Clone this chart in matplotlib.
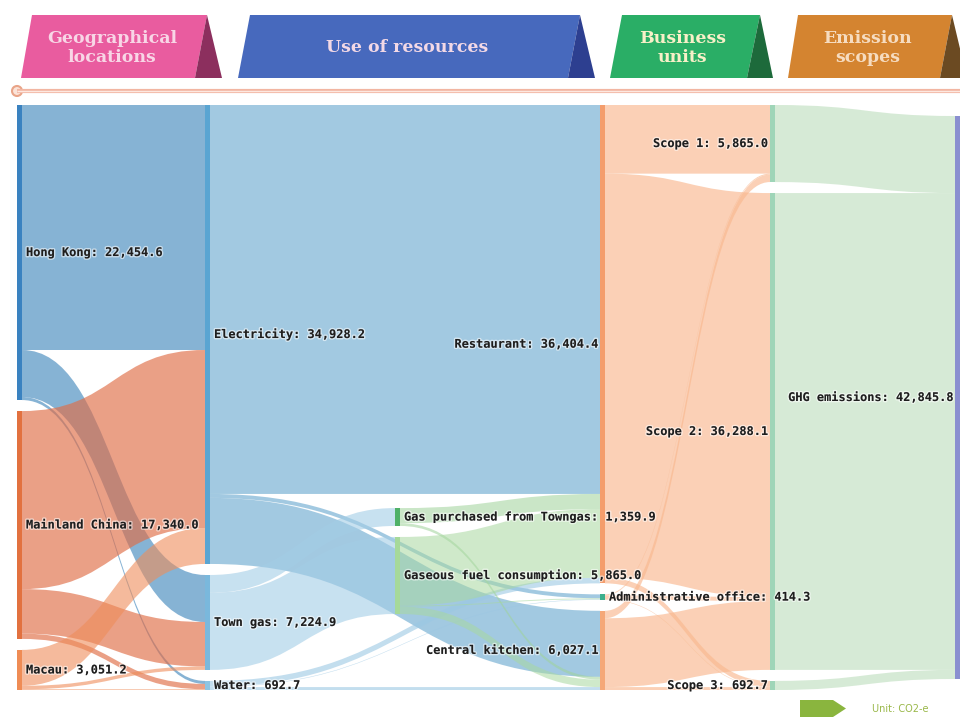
import matplotlib.pyplot as plt
import matplotlib.patheffects as pe
from matplotlib.path import Path
from matplotlib.patches import PathPatch, Polygon, Circle

# node names and the column each one sits in
node_names = [
    "Hong Kong", "Mainland China", "Macau",
    "Electricity", "Town gas", "Water",
    "Gas purchased from Towngas", "Gaseous fuel consumption",
    "Restaurant", "Administrative office", "Central kitchen",
    "Scope 1", "Scope 2", "Scope 3",
    "GHG emissions",
]
node_cols = [0, 0, 0, 1, 1, 1, 2, 2, 3, 3, 3, 4, 4, 4, 5]

# flows (tonnes CO2-e)
link_src = [0, 0, 0, 1, 1, 1, 2, 2, 2,
            3, 3, 3, 4, 4, 5, 5, 5,
            6, 6, 7, 7, 7,
            8, 8, 8, 9, 9, 9, 10, 10, 10,
            11, 12, 13]
link_tgt = [3, 4, 5, 3, 4, 5, 3, 4, 5,
            8, 9, 10, 6, 7, 8, 9, 10,
            8, 10, 8, 9, 10,
            11, 12, 13, 11, 12, 13, 11, 12, 13,
            14, 14, 14]
link_val = [18645.0, 3580.0, 229.6, 13550.0, 3384.0, 406.0, 2733.2, 260.9, 57.1,
            29600.0, 300.0, 5028.2, 1359.9, 5865.0, 430.0, 40.0, 222.7,
            1150.0, 209.9, 5224.4, 74.3, 566.3,
            5224.4, 30750.0, 430.0, 74.3, 300.0, 40.0, 566.3, 5238.1, 222.7,
            5865.0, 36288.1, 692.7]

# layout
col_x = [17, 205, 395, 600, 770, 955]
node_w = 5
pad = 837
col_start = {0: 0, 1: 0, 2: 30676, 3: 0, 4: 0, 5: pad}
label_right = [True, True, True, True, True, True, True, True,
               False, True, False, False, False, False, False]

node_colors = ["#3a82c0", "#e2713f", "#ef8c55",
               "#5aa5d2", "#7ab8dc", "#8ec4e2",
               "#4fb167", "#a6d99a",
               "#f49d6c", "#3cae8c", "#f5a878",
               "#9fd5b8", "#9fd5b8", "#9fd5b8",
               "#8a8fd0"]
link_colors = {0: ("#468abe", 0.65), 1: ("#e06d46", 0.65), 2: ("#ef8d5a", 0.6),
               3: ("#6aa9cf", 0.62), 4: ("#a3cde6", 0.6), 5: ("#9bc8e4", 0.6),
               6: ("#9fd39a", 0.55), 7: ("#a8d8a0", 0.55),
               8: ("#f9b88f", 0.65), 9: ("#f9b88f", 0.65), 10: ("#f9b88f", 0.65),
               11: ("#c5e2c5", 0.7), 12: ("#c5e2c5", 0.7), 13: ("#c5e2c5", 0.7)}

n = len(node_names)
node_val = [max(sum(v for s, v in zip(link_src, link_val) if s == i),
                sum(v for t, v in zip(link_tgt, link_val) if t == i)) for i in range(n)]

y0 = [0.0] * n
for c in range(6):
    y = col_start[c]
    for i in range(n):
        if node_cols[i] == c:
            y0[i] = y
            y += node_val[i] + pad
total = sum(node_val[i] for i in range(n) if node_cols[i] == 0)
H = total + 2 * pad

# link slots at source and target
links = list(range(len(link_val)))
src_off, tgt_off = {}, {}
for i in range(n):
    out_l = sorted([k for k in links if link_src[k] == i], key=lambda k: y0[link_tgt[k]])
    y = y0[i]
    for k in out_l:
        src_off[k] = y
        y += link_val[k]
    in_l = sorted([k for k in links if link_tgt[k] == i], key=lambda k: y0[link_src[k]])
    y = y0[i]
    for k in in_l:
        tgt_off[k] = y
        y += link_val[k]

fig = plt.figure(figsize=(9.6, 7.19), dpi=100)

# decorations: header tabs, divider, unit note
deco = fig.add_axes([0, 0, 1, 1])
deco.set_xlim(0, 960)
deco.set_ylim(719, 0)
deco.axis("off")

tabs = [
    ("Geographical\nlocations", 21, 32, 195, 207, 222, "#e95c9f", "#8c2f5e", "#f8d6e6"),
    ("Use of resources", 238, 250, 568, 580, 595, "#4769bd", "#2d3f90", "#f3d9e6"),
    ("Business\nunits", 610, 622, 747, 760, 773, "#2aae66", "#1d6a3b", "#f8f0c8"),
    ("Emission\nscopes", 788, 798, 940, 952, 967, "#d48430", "#6b4a22", "#f6dcc0"),
]
for text, bl, tl, br, tr, dr, col, dark, tcol in tabs:
    deco.add_patch(Polygon([(tl, 15), (tr, 15), (br, 78), (bl, 78)], closed=True,
                           facecolor=col, edgecolor="none"))
    deco.add_patch(Polygon([(tr, 15), (dr, 78), (br, 78)], closed=True,
                           facecolor=dark, edgecolor="none"))
    deco.text((bl + br) / 2 + 4, 48, text, ha="center", va="center", color=tcol,
              fontsize=12.5, fontweight="bold", family="DejaVu Serif", linespacing=1.2)

deco.plot([17, 960], [91, 91], color="#f2b6a2", lw=3, solid_capstyle="butt")
deco.plot([17, 960], [91, 91], color="#fde8e0", lw=1, solid_capstyle="butt")
deco.add_patch(Circle((17, 91), 5, facecolor="#fbe3d8", edgecolor="#e9a488", lw=1.5))

deco.add_patch(Polygon([(800, 700), (833, 700), (846, 708.5), (833, 717), (800, 717)],
                       closed=True, facecolor="#8ab53e", edgecolor="none"))
deco.text(872, 709, "Unit: CO2-e", ha="left", va="center", color="#9ab84a", fontsize=7)

# sankey body
ax = fig.add_axes([0, 29 / 719, 1, 585 / 719])
ax.set_xlim(0, 960)
ax.set_ylim(H, 0)
ax.axis("off")
ax.patch.set_alpha(0)

for k in links:
    s, t, v = link_src[k], link_tgt[k], link_val[k]
    xa = col_x[node_cols[s]] + node_w
    xb = col_x[node_cols[t]]
    xm = (xa + xb) / 2
    sa, ta = src_off[k], tgt_off[k]
    verts = [(xa, sa), (xm, sa), (xm, ta), (xb, ta),
             (xb, ta + v), (xm, ta + v), (xm, sa + v), (xa, sa + v), (xa, sa)]
    codes = [Path.MOVETO, Path.CURVE4, Path.CURVE4, Path.CURVE4,
             Path.LINETO, Path.CURVE4, Path.CURVE4, Path.CURVE4, Path.CLOSEPOLY]
    col, a = link_colors[s]
    ax.add_patch(PathPatch(Path(verts, codes), facecolor=col, alpha=a,
                           edgecolor="none", zorder=1))

halo = [pe.withStroke(linewidth=2, foreground=(1, 1, 1, 0.55))]
for i in range(n):
    x = col_x[node_cols[i]]
    ax.bar(x, node_val[i], bottom=y0[i], width=node_w, align="edge",
           color=node_colors[i], edgecolor="none", zorder=2)
    label = f"{node_names[i]}: {node_val[i]:,.1f}"
    yc = y0[i] + node_val[i] / 2
    if label_right[i]:
        ax.text(x + node_w + 4, yc, label, ha="left", va="center", fontsize=8.6,
                family="DejaVu Sans Mono", fontweight="bold", color="#1e1e1e",
                path_effects=halo, zorder=3)
    else:
        ax.text(x - 3, yc, label, ha="right", va="center", fontsize=8.6,
                family="DejaVu Sans Mono", fontweight="bold", color="#1e1e1e",
                path_effects=halo, zorder=3)

fig.savefig("out.png", dpi=100)
